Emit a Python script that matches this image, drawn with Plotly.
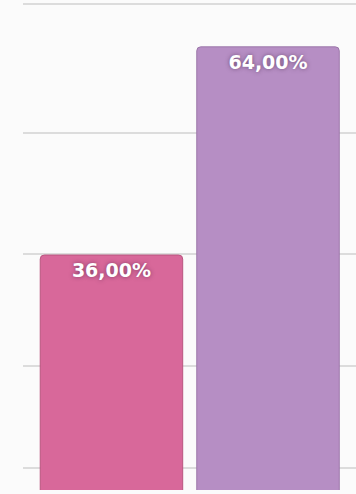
import plotly.graph_objects as go

categories = ["A", "B"]
values = [36.0, 64.0]
labels = ["36,00%", "64,00%"]
colors = ["#D8689A", "#B68EC4"]
edge_colors = ["#B9557F", "#9C77AA"]
grid_vals = [7.3, 21.1, 36.1, 52.4, 69.8]

fig = go.Figure(
    go.Bar(
        x=categories,
        y=values,
        text=labels,
        textposition="inside",
        insidetextanchor="end",
        textangle=0,
        textfont=dict(family="DejaVu Sans, Verdana, sans-serif", size=19, color="white",
                      weight="bold", shadow="0px 0px 4px rgba(60,30,60,0.55)"),
        marker=dict(color=colors, line=dict(color=edge_colors, width=1), cornerradius=4),
        width=0.91,
        hoverinfo="skip",
    )
)

fig.update_layout(
    width=356,
    height=494,
    margin=dict(l=23, r=0, t=0, b=4),
    paper_bgcolor="#FBFBFB",
    plot_bgcolor="#FBFBFB",
    showlegend=False,
    xaxis=dict(range=[-0.565, 1.562], showticklabels=False, showgrid=False,
               zeroline=False, showline=False, fixedrange=True),
    yaxis=dict(range=[4.4, 70.3], tickvals=grid_vals, showticklabels=False,
               showgrid=True, gridcolor="#DCDCDC", gridwidth=2,
               zeroline=False, showline=False, fixedrange=True),
)

fig.write_html(
    "out.html",
    config={"displayModeBar": False},
    post_script="document.body.style.margin='0';document.body.style.overflow='hidden';",
)
